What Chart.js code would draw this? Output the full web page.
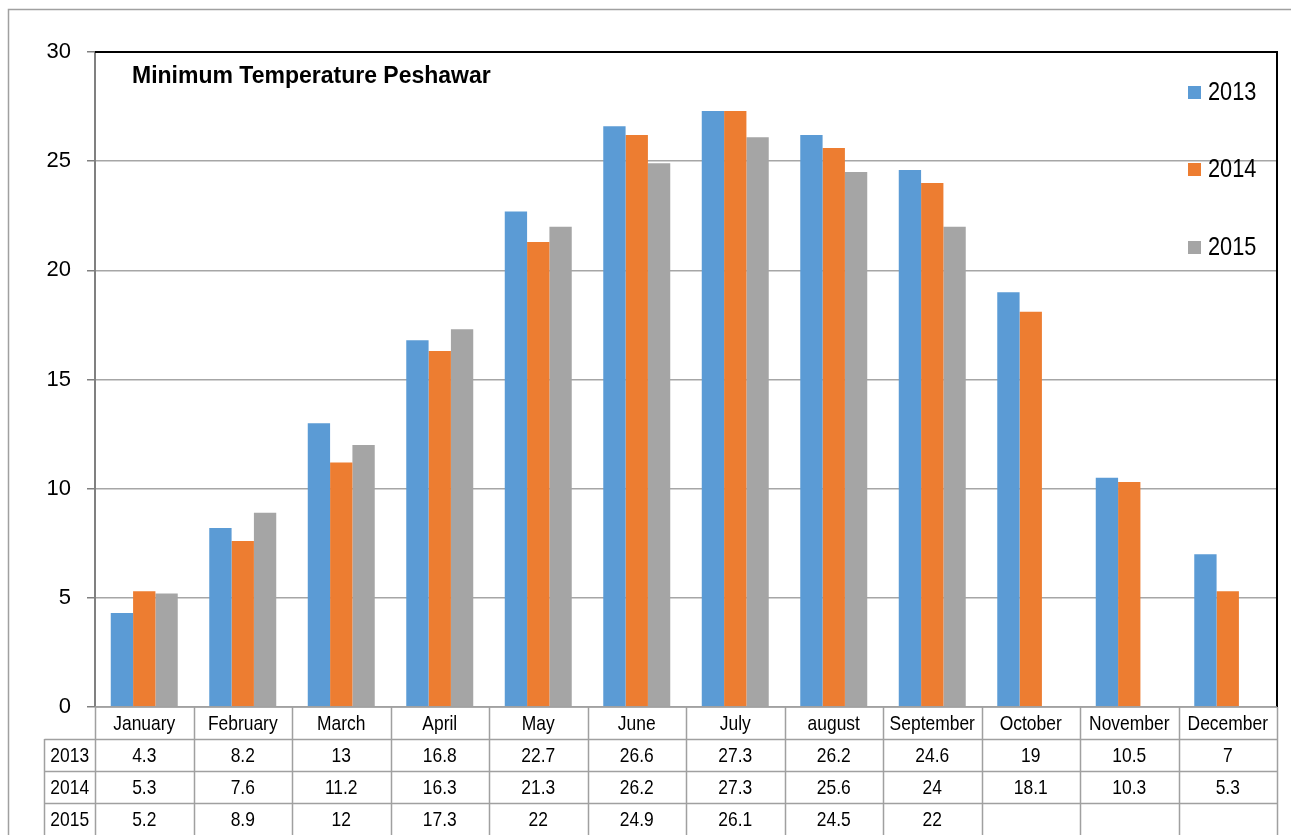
<!DOCTYPE html>
<html>
<head>
<meta charset="utf-8">
<title>Minimum Temperature Peshawar</title>
<script src="https://cdn.jsdelivr.net/npm/chart.js@4/dist/chart.umd.min.js"></script>
<style>
  html, body { margin: 0; padding: 0; background: #ffffff; }
  canvas { display: block; }
</style>
</head>
<body>
<canvas id="c" width="1291" height="835"></canvas>
<script>
// Monthly minimum temperatures, Peshawar (°C)
const months = ['January', 'February', 'March', 'April', 'May', 'June', 'July', 'august', 'September', 'October', 'November', 'December'];
const years = ['2013', '2014', '2015'];
const min2013 = [4.3, 8.2, 13, 16.8, 22.7, 26.6, 27.3, 26.2, 24.6, 19, 10.5, 7];
const min2014 = [5.3, 7.6, 11.2, 16.3, 21.3, 26.2, 27.3, 25.6, 24, 18.1, 10.3, 5.3];
const min2015 = [5.2, 8.9, 12, 17.3, 22, 24.9, 26.1, 24.5, 22, null, null, null];
const yTicks = [0, 5, 10, 15, 20, 25, 30];

const seriesValues = [min2013, min2014, min2015];
const seriesColors = ['#5B9BD5', '#ED7D31', '#A5A5A5'];

const SANS = '"Liberation Sans", Arial, sans-serif';

function fmt(v) { return v === null || v === undefined ? '' : String(v); }

// Draws text in a horizontally condensed face (narrow grotesque look)
function condensedText(ctx, text, x, y, size, squeeze, align) {
  ctx.save();
  ctx.font = size + 'px ' + SANS;
  ctx.textAlign = align;
  ctx.textBaseline = 'middle';
  ctx.translate(x, y);
  ctx.scale(squeeze, 1);
  ctx.fillText(text, 0, 0);
  ctx.restore();
}

// Outer frame, title, legend, plot border and the data table beneath the axis
const decorations = {
  id: 'decorations',
  afterDraw(chart) {
    const ctx = chart.ctx;
    const area = chart.chartArea;
    const xs = chart.scales.x;
    ctx.save();

    // outer frame
    ctx.strokeStyle = '#a0a0a0';
    ctx.lineWidth = 1.5;
    ctx.beginPath();
    ctx.moveTo(8.5, chart.height);
    ctx.lineTo(8.5, 9.5);
    ctx.lineTo(chart.width, 9.5);
    ctx.stroke();

    // top and right plot border
    ctx.strokeStyle = '#000000';
    ctx.lineWidth = 2;
    ctx.beginPath();
    ctx.moveTo(area.left, area.top);
    ctx.lineTo(area.right, area.top);
    ctx.lineTo(area.right, area.bottom);
    ctx.stroke();

    // title
    ctx.fillStyle = '#000000';
    ctx.font = 'bold 23px ' + SANS;
    ctx.textAlign = 'left';
    ctx.textBaseline = 'alphabetic';
    ctx.fillText('Minimum Temperature Peshawar', 132, 83);

    // legend
    const legendY = [93, 170, 248];
    chart.data.datasets.forEach((ds, i) => {
      ctx.fillStyle = ds.backgroundColor;
      ctx.fillRect(1188, legendY[i] - 7, 13, 13);
      ctx.fillStyle = '#000000';
      condensedText(ctx, ds.label, 1208, legendY[i], 25, 0.87, 'left');
    });

    // data table
    const n = chart.data.labels.length;
    const half = (xs.getPixelForValue(1) - xs.getPixelForValue(0)) / 2;
    const top = area.bottom;
    const rowH = 32;
    const labelLeft = 44.5;
    const bottom = chart.height;

    ctx.strokeStyle = '#a0a0a0';
    ctx.lineWidth = 1.5;
    ctx.beginPath();
    ctx.moveTo(area.left, top);
    ctx.lineTo(area.right, top);
    for (let r = 1; r <= 3; r++) {
      const y = Math.round(top + r * rowH) + 0.5;
      ctx.moveTo(labelLeft, y);
      ctx.lineTo(area.right, y);
    }
    for (let i = 0; i <= n; i++) {
      const x = Math.round(xs.getPixelForValue(i) - half) + 0.5;
      ctx.moveTo(x, top);
      ctx.lineTo(x, bottom);
    }
    ctx.moveTo(labelLeft, top + rowH);
    ctx.lineTo(labelLeft, bottom);
    ctx.stroke();

    ctx.fillStyle = '#000000';
    chart.data.labels.forEach((lab, i) => {
      condensedText(ctx, lab, xs.getPixelForValue(i), top + rowH / 2 + 1, 21, 0.83, 'center');
    });
    chart.data.datasets.forEach((ds, r) => {
      const yc = top + (r + 1) * rowH + rowH / 2 + 1;
      condensedText(ctx, ds.label, (labelLeft + area.left) / 2, yc, 21, 0.83, 'center');
      ds.data.forEach((v, i) => {
        condensedText(ctx, fmt(v), xs.getPixelForValue(i), yc, 21, 0.83, 'center');
      });
    });

    ctx.restore();
  }
};

new Chart(document.getElementById('c'), {
  type: 'bar',
  data: {
    labels: months,
    datasets: years.map((y, i) => ({
      label: y,
      data: seriesValues[i],
      backgroundColor: seriesColors[i],
      borderWidth: 0,
      categoryPercentage: 0.68,
      barPercentage: 1.0
    }))
  },
  options: {
    responsive: false,
    animation: false,
    layout: { padding: { top: 52, right: 14, bottom: 128, left: 0 } },
    plugins: {
      legend: { display: false },
      title: { display: false },
      tooltip: { enabled: false }
    },
    scales: {
      x: {
        display: false
      },
      y: {
        min: 0,
        max: 30,
        afterBuildTicks(scale) {
          scale.ticks = yTicks.map(v => ({ value: v }));
        },
        afterFit(scale) { scale.width = 95; },
        ticks: {
          color: '#000000',
          font: { family: SANS, size: 22 },
          padding: 16
        },
        grid: {
          color: '#a6a6a6',
          lineWidth: 1.5,
          tickLength: 8,
          tickColor: '#808080'
        },
        border: { display: true, color: '#808080', width: 2 }
      }
    }
  },
  plugins: [decorations]
});
</script>
</body>
</html>
